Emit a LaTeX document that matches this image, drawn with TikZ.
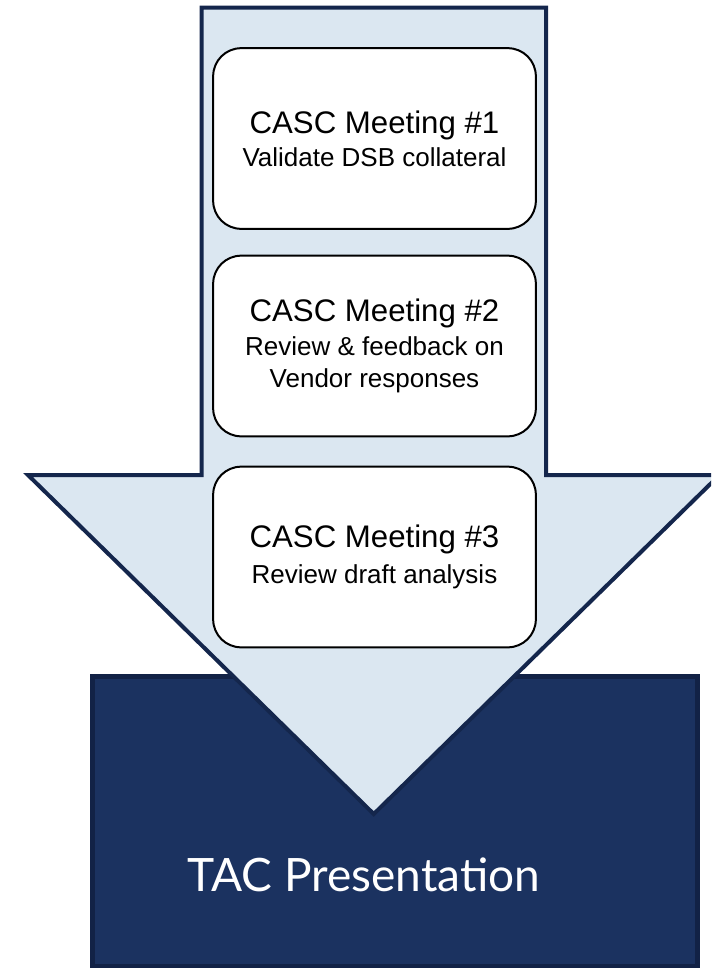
\documentclass[tikz,border=0pt]{standalone}
\usepackage{fontspec}
\setmainfont{Liberation Sans}
\newfontfamily\tacfont{Lato}
\definecolor{arrowfill}{RGB}{219,231,241}
\definecolor{arrowline}{RGB}{20,38,76}
\definecolor{tacfill}{RGB}{27,50,96}
\definecolor{tacline}{RGB}{18,34,70}
\tikzset{
  meetbox/.style={draw=black, line width=1.5pt, fill=white, rounded corners=21pt,
    minimum width=242pt, minimum height=135.5pt, align=center, inner sep=0pt,
    font=\fontsize{19.5}{24}\selectfont},
}
\newcommand{\meettitle}[1]{{\fontsize{23.4}{24}\selectfont #1}}
\begin{document}
\begin{tikzpicture}[x=0.75pt, y=-0.75pt]
\useasboundingbox (0,0) rectangle (711,968);
\clip (0,0) rectangle (711,968);
% TAC box
\node[draw=tacline, line width=3.75pt, fill=tacfill, minimum width=453.75pt, minimum height=218pt, anchor=north west, inner sep=0pt] (tac) at (89.5,673.5) {};
\node[text=white, font=\tacfont\fontsize{34.5}{34.5}\selectfont, anchor=base] (tactext) at (364,891) {TAC Presentation};
% big arrow
\draw[arrowline, fill=arrowfill, line width=3pt, line join=miter]
  (201.5,7.5) -- (546,7.5) -- (546,475) -- (719.5,475) -- (373.75,814) -- (28,475) -- (201.5,475) -- cycle;
% meeting boxes
\node[meetbox] (m1) at (374.5,138.5) {\meettitle{CASC Meeting \#1}\\[1pt] Validate DSB collateral};
\node[meetbox] (m2) at (374.5,346) {\meettitle{CASC Meeting \#2}\\[1pt] Review \& feedback on\\ Vendor responses};
\node[meetbox] (m3) at (374.5,557) {\meettitle{CASC Meeting \#3}\\[3pt] Review draft analysis};
\end{tikzpicture}
\end{document}
